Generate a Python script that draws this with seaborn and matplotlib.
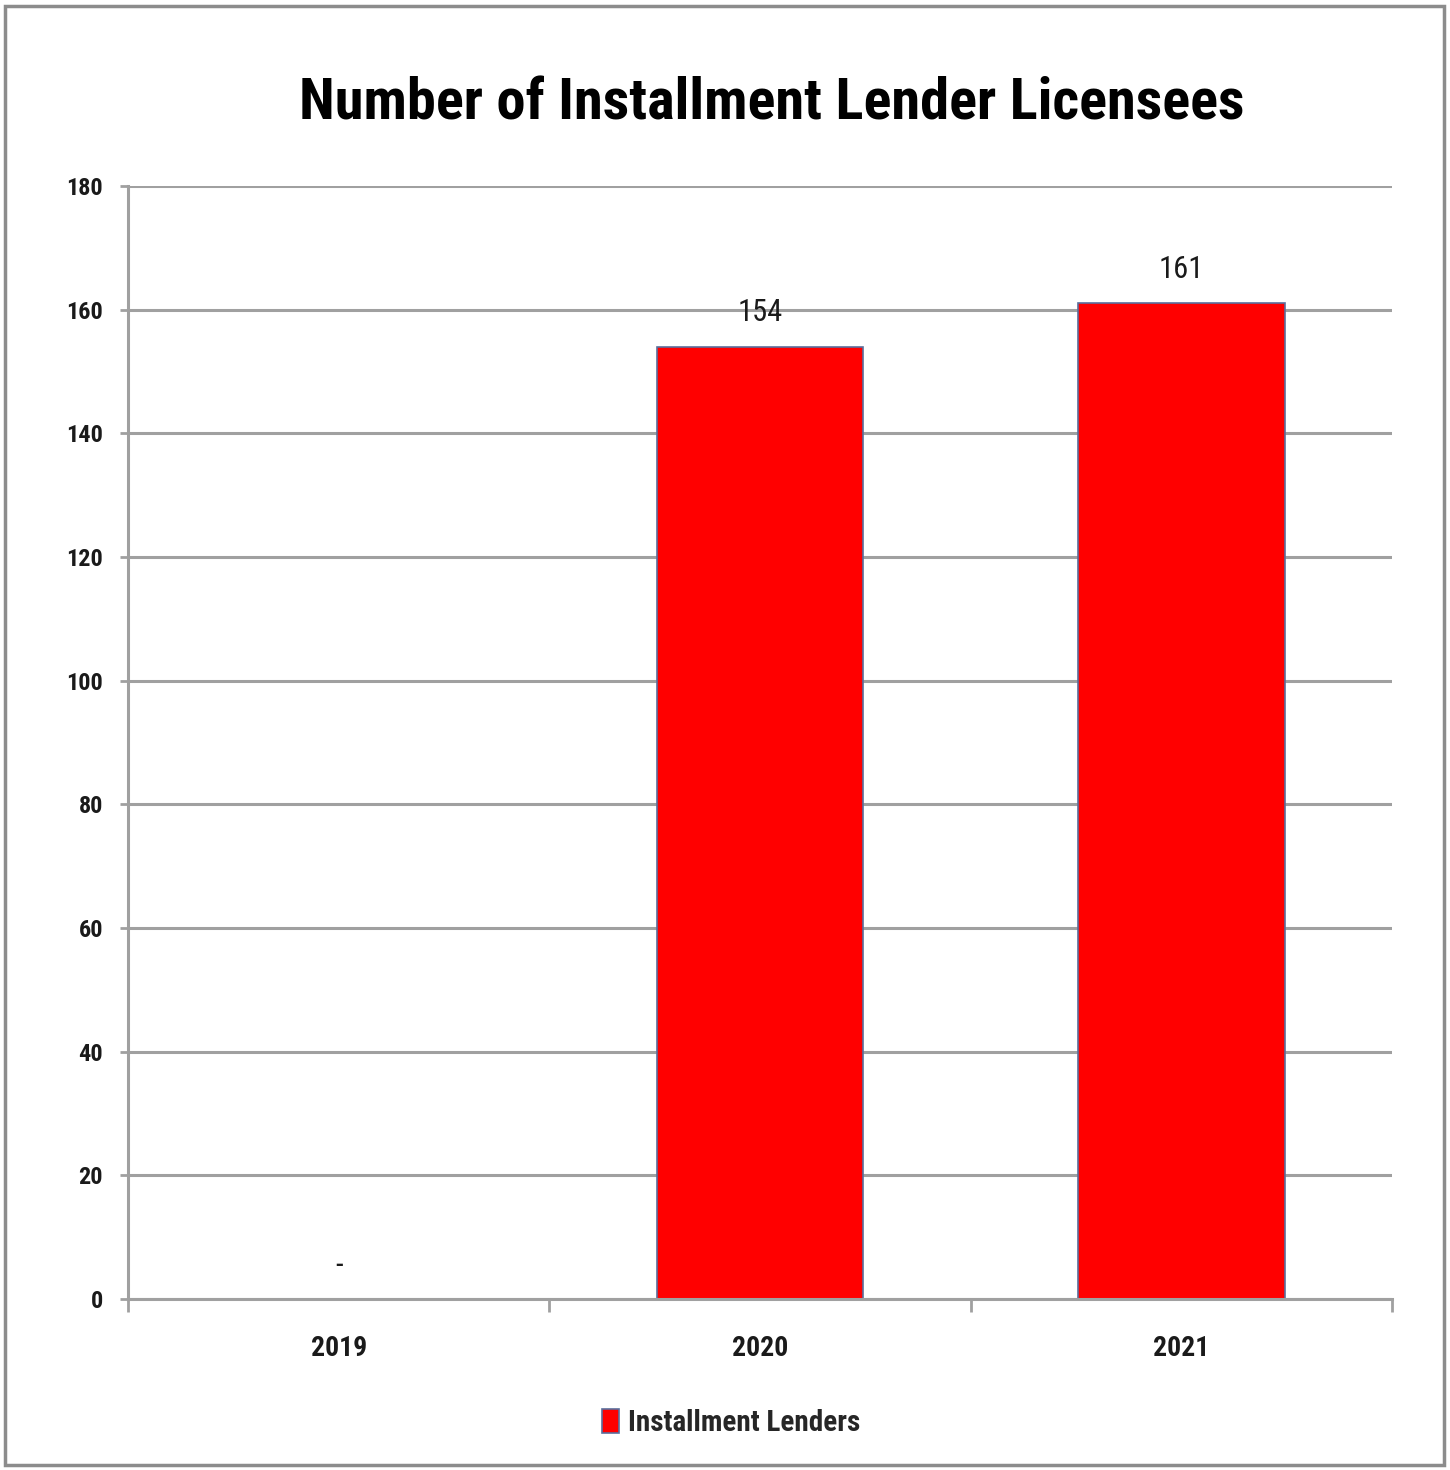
import matplotlib
matplotlib.use("Agg")
import matplotlib.pyplot as plt
import seaborn as sns
import pandas as pd
from matplotlib.patches import Rectangle
from matplotlib import font_manager

years = ["2019", "2020", "2021"]
licensees = [0, 154, 161]
value_labels = ["-", "154", "161"]
series_name = "Installment Lenders"
title = "Number of Installment Lender Licensees"
y_ticks = [0, 20, 40, 60, 80, 100, 120, 140, 160, 180]

sns.set_theme(style="white")
avail = {f.name for f in font_manager.fontManager.ttflist}
prefs = ["Roboto Condensed", "Open Sans Condensed", "Liberation Sans Narrow", "Lato", "DejaVu Sans"]
fam = next(f for f in prefs if f in avail)
plt.rcParams["font.family"] = [fam, "DejaVu Sans"]

df = pd.DataFrame({"Year": years, "Count": licensees, "Series": series_name})

fig = plt.figure(figsize=(14.5, 14.7), dpi=100)
ax = fig.add_axes([128/1450, 1 - 1299/1470, (1392-128)/1450, (1299-186)/1470])

sns.barplot(data=df, x="Year", y="Count", hue="Series", palette=["#FF0000"],
            saturation=1, width=0.49, edgecolor="#5a6e9c", linewidth=1.2, ax=ax, legend=False)

ax.set_ylim(0, 180)
ax.set_xlim(-0.5, 2.5)
ax.set_yticks(y_ticks)
ax.yaxis.grid(True, color="#a0a0a0", linewidth=2.2)
ax.set_axisbelow(True)
for s in ["top", "right"]:
    ax.spines[s].set_visible(False)
for s in ["left", "bottom"]:
    ax.spines[s].set_color("#a0a0a0")
    ax.spines[s].set_linewidth(2.2)
ax.set_xlabel("")
ax.set_ylabel("")
ax.tick_params(axis="y", length=6, width=2, color="#a0a0a0", labelsize=17.5, pad=12, left=True)
ax.tick_params(axis="x", length=0, labelsize=20, pad=26)
for t in ax.get_xticklabels() + ax.get_yticklabels():
    t.set_fontweight("bold")
    t.set_color("#1a1a1a")

# category boundary ticks on x axis
ax.set_xticks([-0.5, 0.5, 1.5, 2.5], minor=True)
ax.tick_params(axis="x", which="minor", length=9, width=2, color="#a0a0a0", bottom=True)

for i, (v, lab) in enumerate(zip(licensees, value_labels)):
    ax.annotate(lab, (i, v), xytext=(0, 14), textcoords="offset points",
                ha="center", va="bottom", fontsize=22, color="#1a1a1a")

fig.text(0.532, 1 - 104/1470, title, ha="center", va="center",
         fontsize=42, fontweight="bold", color="black")

handle = Rectangle((0, 0), 1, 1, facecolor="#FF0000", edgecolor="#5a6e9c", linewidth=1.2)
fig.legend([handle], [series_name], loc="center", bbox_to_anchor=(0.504, 1 - 1423/1470),
           frameon=False, handlelength=0.6, handleheight=0.9,
           handletextpad=0.3, prop={"weight": "bold", "size": 21})

border = Rectangle((5/1450, 5/1470), 1 - 11/1450, 1 - 11/1470, transform=fig.transFigure,
                   fill=False, edgecolor="#8c8c8c", linewidth=2.5)
fig.patches.append(border)

fig.savefig("out.png", dpi=100, facecolor="white")
